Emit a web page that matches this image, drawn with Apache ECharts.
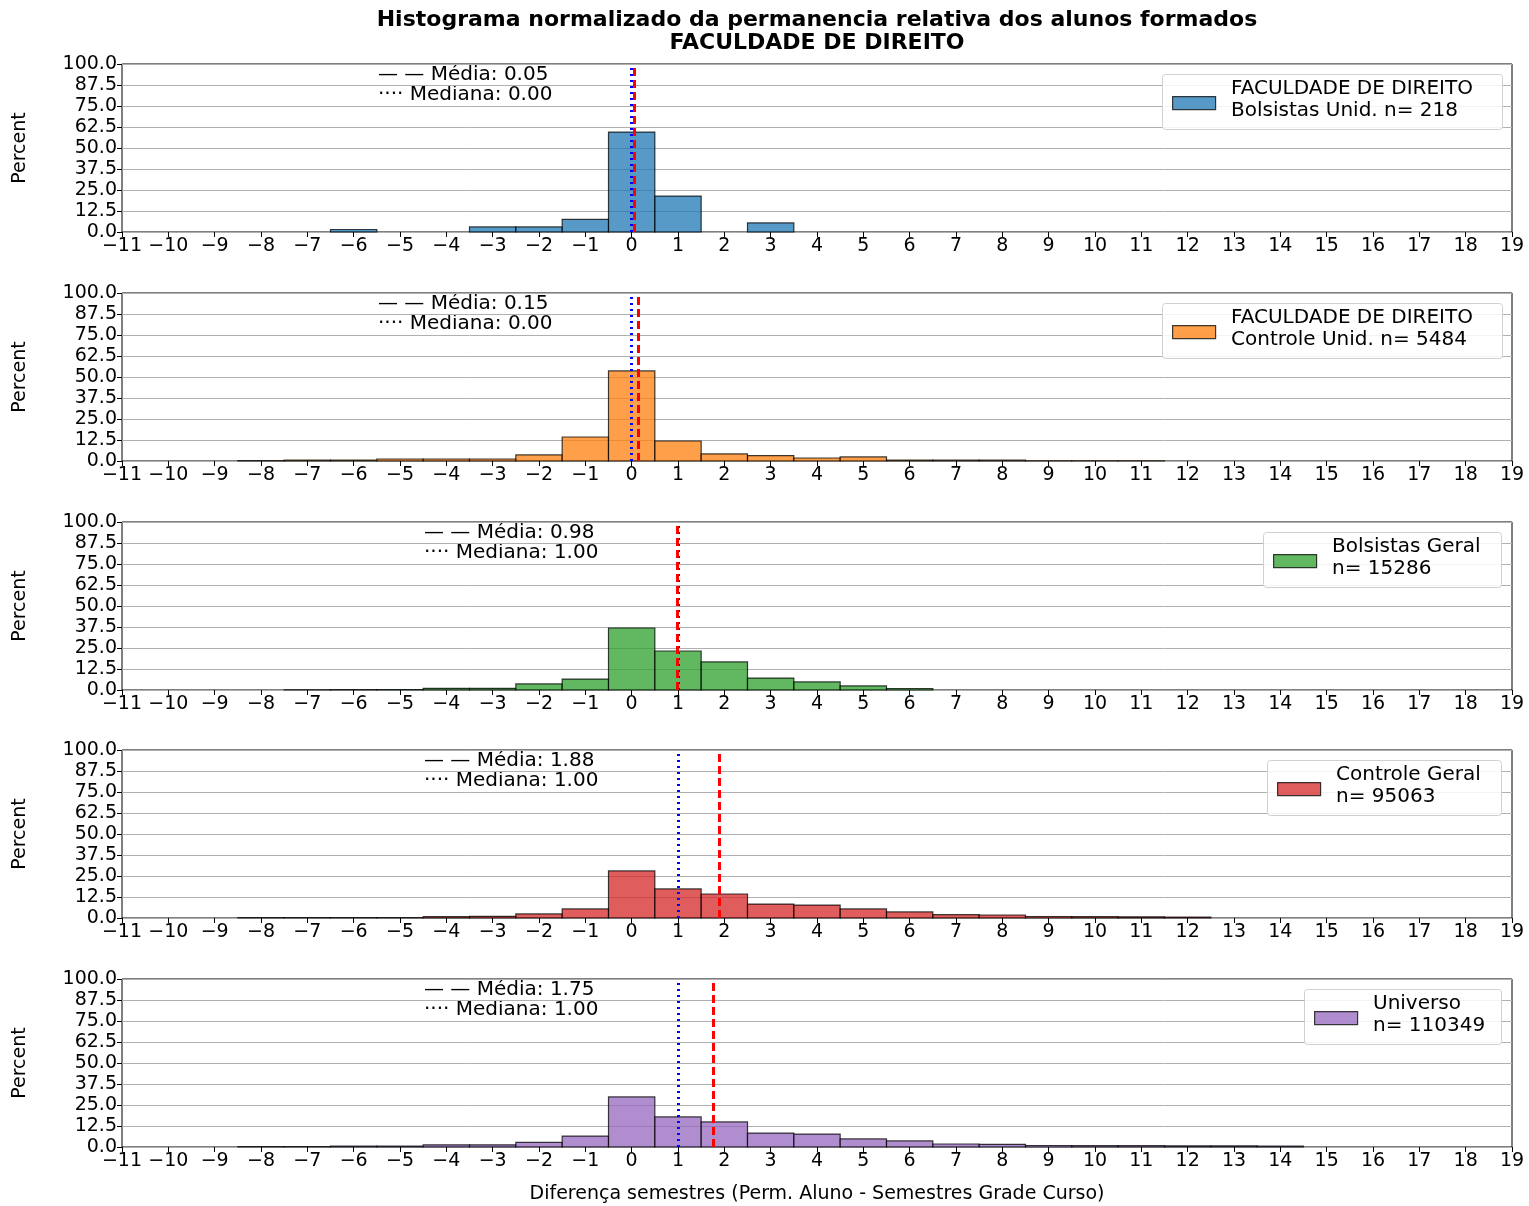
<!DOCTYPE html>
<html>
<head>
<meta charset="utf-8">
<script src="https://cdn.jsdelivr.net/npm/echarts@6/dist/echarts.min.js"></script>
<style>
  html, body { margin: 0; padding: 0; background: #fff; }
  #chart { width: 1529px; height: 1206px; }
</style>
</head>
<body>
<div id="chart"></div>
<script>
// bin centers (semesters difference)
const bins = [-11,-10,-9,-8,-7,-6,-5,-4,-3,-2,-1,0,1,2,3,4,5,6,7,8,9,10,11,12,13,14,15,16,17,18,19];

// percent per bin, -11 .. 19
const bolsistasUnid = [0,0,0,0,0,1.5,0,0,3,3,7.5,59.5,21.4,0,5.4,0,0,0,0,0,0,0,0,0,0,0,0,0,0,0,0];
const controleUnid  = [0,0,0,0.2,0.6,0.6,1.2,1.2,1.2,3.6,14.3,53.6,11.9,4.2,3.2,1.8,2.4,0.6,0.5,0.5,0.1,0.1,0.1,0,0,0,0,0,0,0,0];
const bolsistasGeral= [0,0,0,0,0.1,0.2,0.3,1,1,3.6,6.5,36.9,23.2,16.7,7.1,4.8,2.4,0.9,0,0,0,0,0,0,0,0,0,0,0,0,0];
const controleGeral = [0,0,0,0.2,0.2,0.2,0.2,0.8,1,2.4,5.4,28,17.3,14.3,8.3,7.7,5.4,3.6,2,1.8,0.9,0.8,0.7,0.6,0,0,0,0,0,0,0];
const universo      = [0,0,0,0.2,0.2,0.6,0.6,1.3,1.3,2.7,6.5,29.8,17.9,14.9,8.3,7.7,4.8,3.6,1.8,1.6,0.9,0.8,0.8,0.7,0.7,0.6,0,0,0,0,0];

const means   = [0.05, 0.15, 0.98, 1.88, 1.75];
const medians = [0.00, 0.00, 1.00, 1.00, 1.00];
const legendLines = [
  ["FACULDADE DE DIREITO", "Bolsistas Unid. n= 218"],
  ["FACULDADE DE DIREITO", "Controle Unid. n= 5484"],
  ["Bolsistas Geral", "n= 15286"],
  ["Controle Geral", "n= 95063"],
  ["Universo", "n= 110349"]
];
const seriesData = [bolsistasUnid, controleUnid, bolsistasGeral, controleGeral, universo];
const colors = ["#1f77b4", "#ff7f0e", "#2ca02c", "#d62728", "#9467bd"];

const tops = [64, 293, 522, 750, 979];
const plotH = 168, left = 122, right = 1529 - 1512;
const legendBox = [[1162, 340], [1162, 340], [1263, 238], [1267, 234], [1304, 197]];
const annoX = [378, 378, 424, 424, 424];
const font = "DejaVu Sans";

const grids = [], xAxes = [], yAxes = [], series = [], graphics = [];

tops.forEach((top, i) => {
  grids.push({ left: left, right: right, top: top, height: plotH,
    show: true, borderColor: "#000", borderWidth: 1 });
  xAxes.push({ type: "value", gridIndex: i, min: -11, max: 19, interval: 1,
    axisLine: { show: false, onZero: false }, splitLine: { show: false },
    axisTick: { show: true, length: 5, lineStyle: { color: "#000" } },
    axisLabel: { color: "#000", fontSize: 19, fontFamily: font, margin: 5,
      formatter: v => String(v).replace("-", "\u2212") },
    name: i === 4 ? "Diferença semestres (Perm. Aluno - Semestres Grade Curso)" : "",
    nameLocation: "middle", nameGap: 38,
    nameTextStyle: { color: "#000", fontSize: 19, fontFamily: font } });
  yAxes.push({ type: "value", gridIndex: i, min: 0, max: 100, interval: 12.5,
    axisLine: { show: false, onZero: false },
    axisTick: { show: true, length: 5, lineStyle: { color: "#000" } },
    splitLine: { show: true, lineStyle: { color: "#b0b0b0", width: 1 } },
    axisLabel: { color: "#000", fontSize: 19, fontFamily: font, margin: 5,
      formatter: v => v.toFixed(1) },
    name: "Percent", nameLocation: "middle", nameGap: 92, nameRotate: 90,
    nameTextStyle: { color: "#000", fontSize: 19, fontFamily: font } });

  const data = bins.map((b, k) => [b, seriesData[i][k]]).filter(d => d[1] > 0);
  series.push({
    type: "custom", xAxisIndex: i, yAxisIndex: i, data: data,
    renderItem: (params, api) => {
      const x = api.value(0), v = api.value(1);
      const p0 = api.coord([x - 0.5, v]);
      const p1 = api.coord([x + 0.5, 0]);
      return { type: "rect",
        shape: { x: p0[0], y: p0[1], width: p1[0] - p0[0], height: p1[1] - p0[1] },
        style: { fill: colors[i], opacity: 0.75, stroke: "#000", lineWidth: 1.2 } };
    },
    markLine: { silent: true, symbol: "none", label: { show: false },
      data: [
        { xAxis: medians[i], lineStyle: { color: "#0000ff", type: [2, 4], width: 3 } },
        { xAxis: means[i], lineStyle: { color: "#ff0000", type: [8, 4], width: 3 } }
      ] },
    z: 3
  });

  // mean / median annotation
  graphics.push({ type: "text", left: annoX[i], top: top + 1,
    style: { text: "\u2014 \u2014 Média: " + means[i].toFixed(2) + "\n\u00b7\u00b7\u00b7\u00b7 Mediana: " + medians[i].toFixed(2),
      fill: "#000", font: "20px " + font, lineHeight: 20 } });

  // legend box
  const [lx, lw] = legendBox[i];
  graphics.push({ type: "rect", left: lx, top: top + 10,
    shape: { width: lw, height: 55, r: 3 },
    style: { fill: "rgba(255,255,255,0.85)", stroke: "#d0d0d0", lineWidth: 1 }, z: 10 });
  graphics.push({ type: "rect", left: lx + 10, top: top + 32,
    shape: { width: 43, height: 13 },
    style: { fill: colors[i], opacity: 0.75, stroke: "#000", lineWidth: 1.2 }, z: 11 });
  graphics.push({ type: "text", left: lx + 69, top: top + 14,
    style: { text: legendLines[i].join("\n"), fill: "#000", font: "20px " + font, lineHeight: 22 }, z: 11 });
});

graphics.push({ type: "text", x: 817, y: 9,
  style: { text: "Histograma normalizado da permanencia relativa dos alunos formados\nFACULDADE DE DIREITO",
    fill: "#000", font: "bold 22px " + font, align: "center", lineHeight: 23 } });

const chart = echarts.init(document.getElementById("chart"));
chart.setOption({
  animation: false,
  grid: grids, xAxis: xAxes, yAxis: yAxes, series: series, graphic: graphics
});
</script>
</body>
</html>
